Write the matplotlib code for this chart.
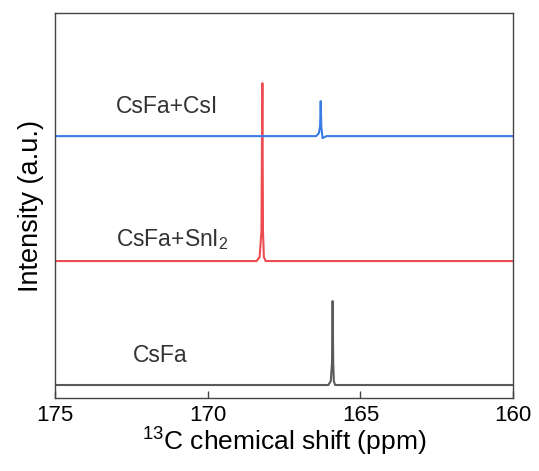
import matplotlib
matplotlib.use("Agg")
import matplotlib.pyplot as plt

plt.rcParams['font.family'] = ['Liberation Sans', 'DejaVu Sans']
plt.rcParams['mathtext.default'] = 'regular'

# 13C spectra, intensities in a.u. (baseline = 0 for each trace)
shift_csfa = [175, 166.05, 165.97, 165.93, 165.91, 165.89, 165.87, 165.83, 165.75, 160]
int_csfa = [0, 0, 0.04, 0.22, 0.84, 0.22, 0.04, 0, 0, 0]

shift_sni2 = [175, 168.40, 168.30, 168.24, 168.21, 168.19, 168.16, 168.10, 168.00, 160]
int_sni2 = [0, 0, 0.04, 0.30, 1.78, 0.30, 0.04, 0, 0, 0]

shift_csi = [175, 166.45, 166.36, 166.32, 166.30, 166.28, 166.24, 166.18, 166.10, 160]
int_csi = [0, 0, 0.03, 0.10, 0.35, 0.09, -0.02, -0.01, 0, 0]

offsets = [0.0, 1.24, 2.49]
labels = ['CsFa', 'CsFa+SnI$_2$', 'CsFa+CsI']
colors = ['#5a5a5a', '#ee4b50', '#3b7ce4']

fig = plt.figure(figsize=(5.39, 4.71), dpi=100)
ax = fig.add_axes([0.102, 0.155, 0.85, 0.817])

spectra = [(shift_csfa, int_csfa), (shift_sni2, int_sni2), (shift_csi, int_csi)]
for (x, y), off, c in zip(spectra, offsets, colors):
    ax.plot(x, [v + off for v in y], color=c, lw=1.5)

# sample labels
label_pos = [(172.45, 0.30), (173.0, 1.46), (173.0, 2.79)]
for (lx, ly), txt in zip(label_pos, labels):
    ax.text(lx, ly, txt, fontsize=16.5, color='#333333', va='center', ha='left')

ax.set_xlim(175, 160)
ax.set_ylim(-0.13, 3.72)
ax.set_xticks([175, 170, 165, 160])
ax.set_yticks([])
ax.tick_params(axis='x', direction='in', length=5, width=1, color='#444444',
               labelsize=16, pad=5, top=False)
for s in ax.spines.values():
    s.set_color('#444444')
    s.set_linewidth(1.0)

ax.set_xlabel('$^{13}$C chemical shift (ppm)', fontsize=19, labelpad=0)
ax.set_ylabel('Intensity (a.u.)', fontsize=19.5, labelpad=8)

fig.savefig('out.png', dpi=100)
